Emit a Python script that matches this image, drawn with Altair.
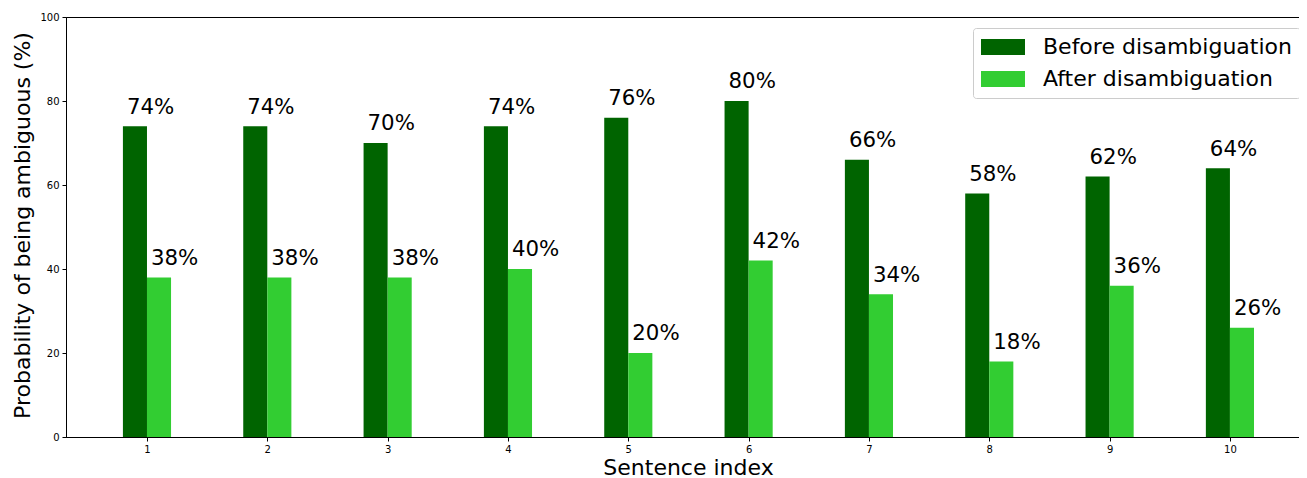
import altair as alt
import pandas as pd

sentences = [1, 2, 3, 4, 5, 6, 7, 8, 9, 10]
before = [74, 74, 70, 74, 76, 80, 66, 58, 62, 64]
after = [38, 38, 38, 40, 20, 42, 34, 18, 36, 26]
series = ["Before disambiguation", "After disambiguation"]
colors = ["#006400", "#32CD32"]
bar_w = 0.2

rows = []
for s, b, a in zip(sentences, before, after):
    rows.append({"idx": s, "series": series[0], "value": b, "x0": s - bar_w, "x1": s,
                 "label": f"{b}%"})
    rows.append({"idx": s, "series": series[1], "value": a, "x0": s, "x1": s + bar_w,
                 "label": f"{a}%"})
df = pd.DataFrame(rows)

xscale = alt.Scale(domain=[0.327, 10.574], nice=False, zero=False)
yscale = alt.Scale(domain=[0, 100], nice=False)

base = alt.Chart(df)

bars = base.mark_bar().encode(
    x=alt.X("x0:Q", scale=xscale,
            axis=alt.Axis(values=sentences, title="Sentence index", grid=False,
                          format="d", labelFontSize=10, tickSize=4,
                          titleFontSize=22, titleFontWeight="normal",
                          titleX=622, titleY=30, titleBaseline="middle",
                          labelColor="#000", tickColor="#000", domainColor="#000",
                          labelPadding=3)),
    x2="x1:Q",
    y=alt.Y("value:Q", scale=yscale,
            axis=alt.Axis(values=[0, 20, 40, 60, 80, 100],
                          title="Probability of being ambiguous (%)", grid=False,
                          labelFontSize=10, tickSize=4, titleFontSize=22,
                          titleFontWeight="normal", titleX=-44, titleY=208,
                          titleBaseline="middle", titleAngle=-90,
                          labelColor="#000", tickColor="#000", domainColor="#000",
                          labelPadding=3)),
    y2=alt.datum(0),
    color=alt.Color("series:N", scale=alt.Scale(domain=series, range=colors),
                    sort=series,
                    legend=alt.Legend(title=None, orient="none", legendX=907, legendY=11,
                                      labelFontSize=22, labelFont="DejaVu Sans",
                                      labelLimit=0,
                                      symbolType="M-1,-0.727H3V0.727H-1Z",
                                      symbolSize=484, symbolStrokeWidth=0,
                                      symbolOpacity=1,
                                      labelOffset=40, padding=8, rowPadding=10,
                                      strokeColor="#cccccc", fillColor="white",
                                      cornerRadius=3, labelColor="#000")),
)

labels = base.mark_text(align="left", baseline="alphabetic", dx=4, dy=-12.6,
                        fontSize=21.3, font="DejaVu Sans", color="black").encode(
    x="x0:Q",
    y="value:Q",
    text="label:N",
)

chart = (bars + labels).properties(
    width=1233, height=420,
    autosize=alt.AutoSizeParams(type="none"),
    padding={"left": 58, "top": 9, "right": 0, "bottom": 41},
).configure(font="DejaVu Sans").configure_view(stroke="black", strokeWidth=1)

chart.save("out.html", embed_options={"renderer": "svg", "actions": False})
